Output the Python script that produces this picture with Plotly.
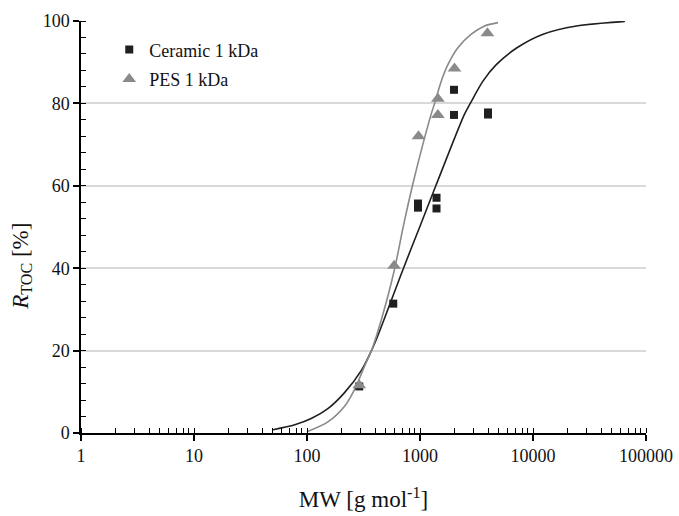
import plotly.graph_objects as go

# Measured retention of TOC vs. molecular weight of the marker solutes
mw_ceramic = [290, 580, 960, 960, 1400, 1400, 2000, 2000, 4000, 4000]
r_ceramic = [11.3, 31.4, 55.7, 54.7, 57.1, 54.5, 83.3, 77.2, 77.8, 77.3]

mw_pes = [290, 590, 970, 1440, 1440, 2020, 3950]
r_pes = [11.6, 40.6, 72.0, 81.1, 77.2, 88.5, 97.0]

# Fitted retention curves (points along each curve)
fit_mw_ceramic = [50, 78, 109, 153, 215, 303, 372, 426, 714, 1000, 1380, 2477, 2786,
                  3606, 4732, 7211, 12270, 24270, 65000]
fit_r_ceramic = [0.8, 2.0, 3.5, 5.9, 9.8, 15.2, 20.0, 23.8, 40.0, 50.2, 60.0, 77.4, 80.0,
                 85.4, 89.4, 93.5, 96.8, 98.8, 99.9]

fit_mw_pes = [100, 153, 215, 264, 324, 372, 411, 500, 598, 716, 857, 1047, 1256, 1346,
              1542, 1766, 2163, 2844, 3733, 4898]
fit_r_pes = [0.3, 2.7, 6.5, 10.6, 16.3, 20.0, 23.5, 31.5, 40.0, 50.5, 60.0, 69.5, 77.4, 80.0,
             85.4, 89.4, 93.5, 96.8, 98.8, 99.6]

x_ticks = [1, 10, 100, 1000, 10000, 100000]
x_tick_text = ["1", "10", "100", "1000", "10000", "100000"]

serif = "Liberation Serif, Times New Roman, serif"
dark = "#1f1f1f"
grey = "#8a8a8a"

fig = go.Figure()

fig.add_trace(go.Scatter(
    x=fit_mw_ceramic, y=fit_r_ceramic, mode="lines",
    line=dict(color=dark, width=1.6, shape="spline", smoothing=0.8),
    showlegend=False, hoverinfo="skip"))
fig.add_trace(go.Scatter(
    x=fit_mw_pes, y=fit_r_pes, mode="lines",
    line=dict(color=grey, width=1.6, shape="spline", smoothing=0.8),
    showlegend=False, hoverinfo="skip"))

fig.add_trace(go.Scatter(
    x=mw_ceramic, y=r_ceramic, mode="markers", name="Ceramic 1 kDa",
    legendgroup="c",
    marker=dict(symbol="square", size=8, color=dark)))
fig.add_trace(go.Scatter(
    x=mw_pes, y=r_pes, mode="markers", name="PES 1 kDa",
    legendgroup="p",
    marker=dict(symbol="triangle-up", size=12, color=grey)))

fig.update_layout(
    width=679, height=516,
    margin=dict(l=81, r=33, t=21, b=83),
    paper_bgcolor="white", plot_bgcolor="white",
    font=dict(family=serif, size=18, color="#111"),
    legend=dict(x=0.05, y=0.975, xanchor="left", yanchor="top",
                bgcolor="rgba(0,0,0,0)", font=dict(size=18, family=serif),
                tracegroupgap=3, itemwidth=30),
    xaxis=dict(
        type="log", range=[0, 5], automargin=False,
        tickvals=x_ticks, ticktext=x_tick_text,
        showline=True, linecolor="black", linewidth=1.5,
        ticks="outside", ticklen=6, tickwidth=1.5, tickcolor="black",
        minor=dict(dtick="D1", ticks="inside", ticklen=5, tickwidth=1.2,
                   tickcolor="black", showgrid=False),
        showgrid=False, zeroline=False,
        tickfont=dict(size=18, family=serif),
        title=dict(text="MW [g mol<sup>-1</sup>]", font=dict(size=23, family=serif),
                   standoff=26),
    ),
    yaxis=dict(
        range=[0, 100], dtick=20, automargin=False,
        showline=True, linecolor="black", linewidth=1.5,
        ticks="outside", ticklen=6, tickwidth=1.5, tickcolor="black",
        minor=dict(dtick=4, ticks="inside", ticklen=5, tickwidth=1.2,
                   tickcolor="black", showgrid=False),
        showgrid=True, gridcolor="#d9d9d9", gridwidth=1.5,
        zeroline=False,
        tickfont=dict(size=18, family=serif),
    ),
    annotations=[dict(
        text="<i>R</i><sub>TOC</sub> [%]", textangle=-90,
        xref="paper", yref="paper", x=-0.105, y=0.405,
        xanchor="center", yanchor="middle", showarrow=False,
        font=dict(size=23, family=serif, color="#111"),
    )],
)

fig.write_html("out.html")
